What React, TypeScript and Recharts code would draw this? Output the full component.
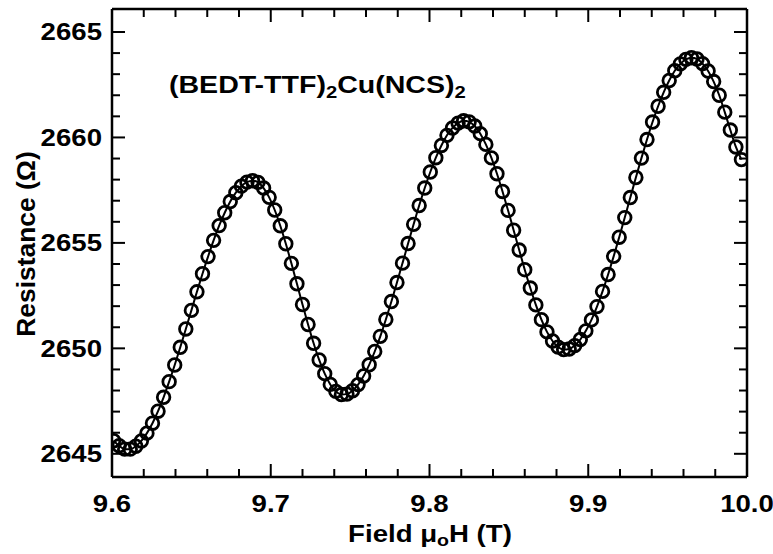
import { LineChart, Line, XAxis, YAxis } from "recharts";

// Field (T) of each measured point
const FIELD_T = [
  9.601, 9.6045, 9.608, 9.6115, 9.615, 9.6185, 9.622, 9.6255, 9.629, 9.6325,
  9.636, 9.6395, 9.643, 9.6465, 9.65, 9.6535, 9.657, 9.6605, 9.664, 9.6675,
  9.671, 9.6745, 9.678, 9.6815, 9.685, 9.6885, 9.692, 9.6955, 9.699, 9.7025,
  9.706, 9.7095, 9.713, 9.7165, 9.72, 9.7235, 9.727, 9.7305, 9.734, 9.7375,
  9.741, 9.7445, 9.748, 9.7515, 9.755, 9.7585, 9.762, 9.7655, 9.769, 9.7725,
  9.776, 9.7795, 9.783, 9.7865, 9.79, 9.7935, 9.797, 9.8005, 9.804, 9.8075,
  9.811, 9.8145, 9.818, 9.8215, 9.825, 9.8285, 9.832, 9.8355, 9.839, 9.8425,
  9.846, 9.8495, 9.853, 9.8565, 9.86, 9.8635, 9.867, 9.8705, 9.874, 9.8775,
  9.881, 9.8845, 9.888, 9.8915, 9.895, 9.8985, 9.902, 9.9055, 9.909, 9.9125,
  9.916, 9.9195, 9.923, 9.9265, 9.93, 9.9335, 9.937, 9.9405, 9.944, 9.9475,
  9.951, 9.9545, 9.958, 9.9615, 9.965, 9.9685, 9.972, 9.9755, 9.979, 9.9825,
  9.986, 9.9895, 9.993, 9.9965,
];

// Resistance (Ohm)
const RESISTANCE_OHM = [
  2645.62, 2645.38, 2645.22, 2645.22, 2645.36, 2645.61, 2645.98, 2646.45, 2647.02, 2647.68,
  2648.42, 2649.21, 2650.05, 2650.92, 2651.8, 2652.68, 2653.54, 2654.35, 2655.12, 2655.82,
  2656.43, 2656.96, 2657.38, 2657.69, 2657.88, 2657.95, 2657.87, 2657.6, 2657.16, 2656.56,
  2655.81, 2654.96, 2654.03, 2653.06, 2652.08, 2651.13, 2650.24, 2649.45, 2648.8, 2648.29,
  2647.96, 2647.81, 2647.83, 2647.99, 2648.28, 2648.69, 2649.22, 2649.85, 2650.57, 2651.37,
  2652.22, 2653.12, 2654.04, 2654.97, 2655.88, 2656.77, 2657.6, 2658.36, 2659.04, 2659.62,
  2660.1, 2660.45, 2660.68, 2660.79, 2660.74, 2660.54, 2660.18, 2659.67, 2659.03, 2658.28,
  2657.44, 2656.54, 2655.6, 2654.66, 2653.73, 2652.86, 2652.06, 2651.36, 2650.78, 2650.35,
  2650.06, 2649.94, 2649.97, 2650.13, 2650.42, 2650.83, 2651.35, 2651.98, 2652.7, 2653.5,
  2654.36, 2655.27, 2656.2, 2657.15, 2658.1, 2659.02, 2659.9, 2660.73, 2661.48, 2662.14,
  2662.7, 2663.16, 2663.49, 2663.7, 2663.78, 2663.72, 2663.5, 2663.15, 2662.65, 2662.0,
  2661.2, 2660.35, 2659.55, 2658.95,
];

const X_TICKS = [
  9.6, 9.62, 9.64, 9.66, 9.68, 9.7, 9.72, 9.74, 9.76, 9.78, 9.8,
  9.82, 9.84, 9.86, 9.88, 9.9, 9.92, 9.94, 9.96, 9.98, 10.0,
];
const Y_TICKS = [
  2645, 2646, 2647, 2648, 2649, 2650, 2651, 2652, 2653, 2654, 2655,
  2656, 2657, 2658, 2659, 2660, 2661, 2662, 2663, 2664, 2665,
];

const rows = FIELD_T.map((field, i) => ({ field, resistance: RESISTANCE_OHM[i] }));

const FONT = '"Liberation Sans", Arial, Helvetica, sans-serif';
const STRETCH = 1.15;
const isMajorX = (v: number) => Math.abs(v * 10 - Math.round(v * 10)) < 1e-6;
const isMajorY = (v: number) => v % 5 === 0;

function stretchAt(x: number, s = STRETCH) {
  return `translate(${x} 0) scale(${s} 1) translate(${-x} 0)`;
}

function BottomTick({ x, y, payload }: any) {
  const v = payload.value as number;
  const major = isMajorX(v);
  return (
    <g>
      <line x1={x} y1={y} x2={x} y2={y - (major ? 13 : 8)} stroke="#000" strokeWidth={2} />
      {major && (
        <text
          x={x}
          y={y + 35}
          textAnchor="middle"
          fontFamily={FONT}
          fontWeight="bold"
          fontSize={24}
          fill="#000"
          transform={stretchAt(x)}
        >
          {v.toFixed(1)}
        </text>
      )}
    </g>
  );
}

function TopTick({ x, y, payload }: any) {
  const major = isMajorX(payload.value);
  return <line x1={x} y1={y} x2={x} y2={y + (major ? 13 : 8)} stroke="#000" strokeWidth={2} />;
}

function LeftTick({ x, y, payload }: any) {
  const v = payload.value as number;
  const major = isMajorY(v);
  return (
    <g>
      <line x1={x} y1={y} x2={x + (major ? 13 : 8)} y2={y} stroke="#000" strokeWidth={2} />
      {major && (
        <text
          x={x - 10}
          y={y + 8.5}
          textAnchor="end"
          fontFamily={FONT}
          fontWeight="bold"
          fontSize={24}
          fill="#000"
          transform={stretchAt(x - 10)}
        >
          {v}
        </text>
      )}
    </g>
  );
}

function RightTick({ x, y, payload }: any) {
  const major = isMajorY(payload.value);
  return <line x1={x} y1={y} x2={x - (major ? 13 : 8)} y2={y} stroke="#000" strokeWidth={2} />;
}

const axisLine = { stroke: "#000", strokeWidth: 2.5 };

export default function App() {
  return (
    <div style={{ position: "absolute", left: 0, top: 0, width: 773, height: 554, background: "#fff" }}>
      <LineChart
        width={773}
        height={554}
        data={rows}
        margin={{ top: 8, right: 25, bottom: 76, left: 111 }}
      >
        <XAxis
          xAxisId="b"
          dataKey="field"
          type="number"
          domain={[9.6, 10.0]}
          allowDataOverflow
          ticks={X_TICKS}
          interval={0}
          height={1}
          tickSize={0}
          tickMargin={0}
          tickLine={false}
          axisLine={axisLine}
          tick={<BottomTick />}
        />
        <XAxis
          xAxisId="t"
          orientation="top"
          dataKey="field"
          type="number"
          domain={[9.6, 10.0]}
          allowDataOverflow
          ticks={X_TICKS}
          interval={0}
          height={1}
          tickSize={0}
          tickMargin={0}
          tickLine={false}
          axisLine={axisLine}
          tick={<TopTick />}
        />
        <YAxis
          yAxisId="l"
          type="number"
          domain={[2643.9, 2666.09]}
          allowDataOverflow
          ticks={Y_TICKS}
          interval={0}
          width={1}
          tickSize={0}
          tickMargin={0}
          tickLine={false}
          axisLine={axisLine}
          tick={<LeftTick />}
        />
        <YAxis
          yAxisId="r"
          orientation="right"
          type="number"
          domain={[2643.9, 2666.09]}
          allowDataOverflow
          ticks={Y_TICKS}
          interval={0}
          width={1}
          tickSize={0}
          tickMargin={0}
          tickLine={false}
          axisLine={axisLine}
          tick={<RightTick />}
        />
        <Line
          xAxisId="b"
          yAxisId="l"
          dataKey="resistance"
          type="monotone"
          stroke="#000"
          strokeWidth={2}
          dot={{ r: 6.3, fill: "none", stroke: "#000", strokeWidth: 2.8 }}
          isAnimationActive={false}
        />
      </LineChart>
      <svg
        width={773}
        height={554}
        style={{ position: "absolute", left: 0, top: 0, pointerEvents: "none" }}
        fontFamily={FONT}
        fontWeight="bold"
        fill="#000"
      >
        <text x={169} y={93} fontSize={24} transform={stretchAt(169, 1.19)}>
          (BEDT-TTF)
          <tspan fontSize={17} dy={5}>2</tspan>
          <tspan dy={-5}>Cu(NCS)</tspan>
          <tspan fontSize={17} dy={5}>2</tspan>
        </text>
        <text x={430} y={542} fontSize={24} textAnchor="middle" transform={stretchAt(430)}>
          Field μ
          <tspan fontSize={17} dy={4}>o</tspan>
          <tspan dy={-4}>H (T)</tspan>
        </text>
        <text
          x={0}
          y={0}
          fontSize={24}
          textAnchor="middle"
          transform="translate(35 244) rotate(-90) scale(1.1 1.1)"
        >
          Resistance (Ω)
        </text>
      </svg>
    </div>
  );
}
